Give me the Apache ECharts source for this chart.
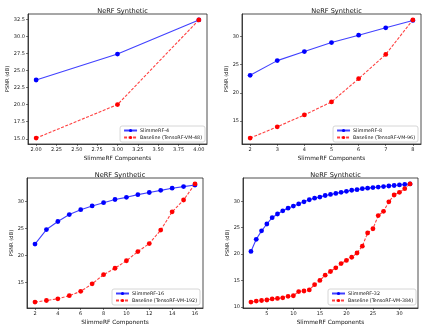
<!DOCTYPE html>
<html>
<head>
<meta charset="utf-8">
<script src="https://cdn.jsdelivr.net/npm/echarts@6/dist/echarts.min.js"></script>
<style>
  html, body { margin: 0; padding: 0; background: #fff; }
  #chart { width: 428px; height: 331px; }
</style>
</head>
<body>
<div id="chart"></div>
<script>
// components (x) for each panel
const x4 = [2, 3, 4]
const x8 = [2, 3, 4, 5, 6, 7, 8]
const x16 = [2, 3, 4, 5, 6, 7, 8, 9, 10, 11, 12, 13, 14, 15, 16]
const x32 = [2, 3, 4, 5, 6, 7, 8, 9, 10, 11, 12, 13, 14, 15, 16, 17, 18, 19, 20, 21, 22, 23, 24, 25, 26, 27, 28, 29, 30, 31, 32]

// PSNR values
const slim4 = [23.6, 27.4, 32.4]
const base48 = [15.1, 20.0, 32.4]
const slim8 = [23.1, 25.7, 27.3, 28.9, 30.2, 31.5, 32.8]
const base96 = [12.0, 14.0, 16.1, 18.4, 22.5, 26.8, 32.9]
const slim16 = [22.1, 24.8, 26.3, 27.6, 28.5, 29.2, 29.8, 30.4, 30.8, 31.3, 31.7, 32.1, 32.5, 32.8, 33.1]
const base192 = [11.3, 11.6, 11.9, 12.5, 13.3, 14.7, 16.4, 17.6, 19.0, 20.7, 22.2, 24.7, 28.1, 30.3, 33.3]
const slim32 = [20.5, 22.8, 24.4, 25.7, 26.9, 27.6, 28.2, 28.7, 29.1, 29.5, 29.9, 30.3, 30.6, 30.8, 31.1, 31.3,
  31.5, 31.7, 31.9, 32.1, 32.2, 32.4, 32.5, 32.6, 32.7, 32.8, 32.9, 33.0, 33.1, 33.2, 33.3]
const base384 = [10.9, 11.1, 11.2, 11.3, 11.5, 11.6, 11.7, 12.0, 12.1, 12.9, 13.0, 13.2, 14.2, 15.0, 16.0, 16.7,
  17.4, 18.2, 18.8, 19.4, 20.2, 21.5, 24.0, 24.8, 27.3, 28.1, 29.9, 31.2, 31.7, 32.4, 33.3]

// tick labels
const xTicks = [
  [2.0, 2.25, 2.5, 2.75, 3.0, 3.25, 3.5, 3.75, 4.0],
  [2, 3, 4, 5, 6, 7, 8],
  [2, 4, 6, 8, 10, 12, 14, 16],
  [5, 10, 15, 20, 25, 30]
]
const yTicks = [
  [15, 17.5, 20, 22.5, 25, 27.5, 30, 32.5],
  [15, 20, 25, 30],
  [15, 20, 25, 30],
  [10, 15, 20, 25, 30]
]

const panels = [
  { xs: x4, slim: slim4, base: base48, slimName: 'SlimmeRF-4', baseName: 'Baseline (TensoRF-VM-48)' },
  { xs: x8, slim: slim8, base: base96, slimName: 'SlimmeRF-8', baseName: 'Baseline (TensoRF-VM-96)' },
  { xs: x16, slim: slim16, base: base192, slimName: 'SlimmeRF-16', baseName: 'Baseline (TensoRF-VM-192)' },
  { xs: x32, slim: slim32, base: base384, slimName: 'SlimmeRF-32', baseName: 'Baseline (TensoRF-VM-384)' }
]

// plot boxes
const grids = [
  { left: 28, top: 14, width: 179, height: 130 },
  { left: 242, top: 14, width: 179, height: 130 },
  { left: 27, top: 178, width: 176, height: 130 },
  { left: 243, top: 178, width: 175, height: 130 }
]
const legendPos = [
  { right: 223, bottom: 189 },
  { right: 10, bottom: 189 },
  { right: 228, bottom: 26 },
  { right: 12, bottom: 26 }
]

const font = 'DejaVu Sans'
const axisColor = '#222'

// matplotlib style 5% margins
const pad = (arr) => {
  const mn = Math.min(...arr), mx = Math.max(...arr)
  const m = (mx - mn) * 0.05
  return [mn - m, mx + m]
}

const option = {
  animation: false,
  backgroundColor: '#fff',
  title: [], grid: [], xAxis: [], yAxis: [], legend: [], series: []
}

panels.forEach((p, i) => {
  const g = grids[i]
  option.grid.push({ ...g, show: true, borderColor: axisColor, borderWidth: 0.8, backgroundColor: 'transparent' })
  option.title.push({
    text: 'NeRF Synthetic',
    left: g.left + g.width / 2,
    top: g.top - 11,
    textAlign: 'center',
    textStyle: { fontFamily: font, fontSize: 6.6, fontWeight: 'normal', color: '#111' }
  })
  const [xmin, xmax] = pad(p.xs)
  const [ymin, ymax] = pad(p.slim.concat(p.base))
  option.xAxis.push({
    type: 'value', gridIndex: i, min: xmin, max: xmax,
    name: 'SlimmeRF Components', nameLocation: 'middle', nameGap: 11,
    nameTextStyle: { fontFamily: font, fontSize: 5.8, color: '#111' },
    axisLine: { show: true, onZero: false, lineStyle: { color: axisColor, width: 0.8 } },
    axisTick: { show: true, length: 2, customValues: xTicks[i], lineStyle: { color: axisColor, width: 0.6 } },
    axisLabel: {
      fontFamily: font, fontSize: 5, color: '#222', margin: 3,
      customValues: xTicks[i],
      formatter: (v) => i === 0 ? v.toFixed(2) : String(v)
    },
    splitLine: { show: false }
  })
  option.yAxis.push({
    type: 'value', gridIndex: i, min: ymin, max: ymax,
    name: 'PSNR (dB)', nameLocation: 'middle', nameGap: i === 0 ? 16 : 13,
    nameTextStyle: { fontFamily: font, fontSize: 5.2, color: '#111' },
    axisLine: { show: true, onZero: false, lineStyle: { color: axisColor, width: 0.8 } },
    axisTick: { show: true, length: 2, customValues: yTicks[i], lineStyle: { color: axisColor, width: 0.6 } },
    axisLabel: {
      fontFamily: font, fontSize: 5, color: '#222', margin: 3,
      customValues: yTicks[i],
      formatter: (v) => i === 0 ? v.toFixed(1) : String(v)
    },
    splitLine: { show: false }
  })
  option.legend.push({
    ...legendPos[i],
    orient: 'vertical',
    data: [p.slimName, p.baseName],
    itemWidth: 13, itemHeight: 4, itemGap: 2,
    padding: [2, 3, 2, 3],
    borderColor: '#ccc', borderWidth: 0.8, borderRadius: 2,
    backgroundColor: 'rgba(255,255,255,0.8)',
    textStyle: { fontFamily: font, fontSize: 4.8, color: '#111', padding: [0, 0, 0, -2] }
  })
  option.series.push({
    name: p.slimName, type: 'line', xAxisIndex: i, yAxisIndex: i,
    data: p.xs.map((x, k) => [x, p.slim[k]]),
    symbol: 'circle', symbolSize: 4.8,
    itemStyle: { color: '#0000ff' },
    lineStyle: { color: '#0000ff', width: 1.1, opacity: 0.75 }
  })
  option.series.push({
    name: p.baseName, type: 'line', xAxisIndex: i, yAxisIndex: i,
    data: p.xs.map((x, k) => [x, p.base[k]]),
    symbol: 'circle', symbolSize: 4.8,
    itemStyle: { color: '#ff0000' },
    lineStyle: { color: '#ff0000', width: 1.1, type: [3, 1.5], opacity: 0.75 }
  })
})

const chart = echarts.init(document.getElementById('chart'))
chart.setOption(option)
</script>
</body>
</html>
